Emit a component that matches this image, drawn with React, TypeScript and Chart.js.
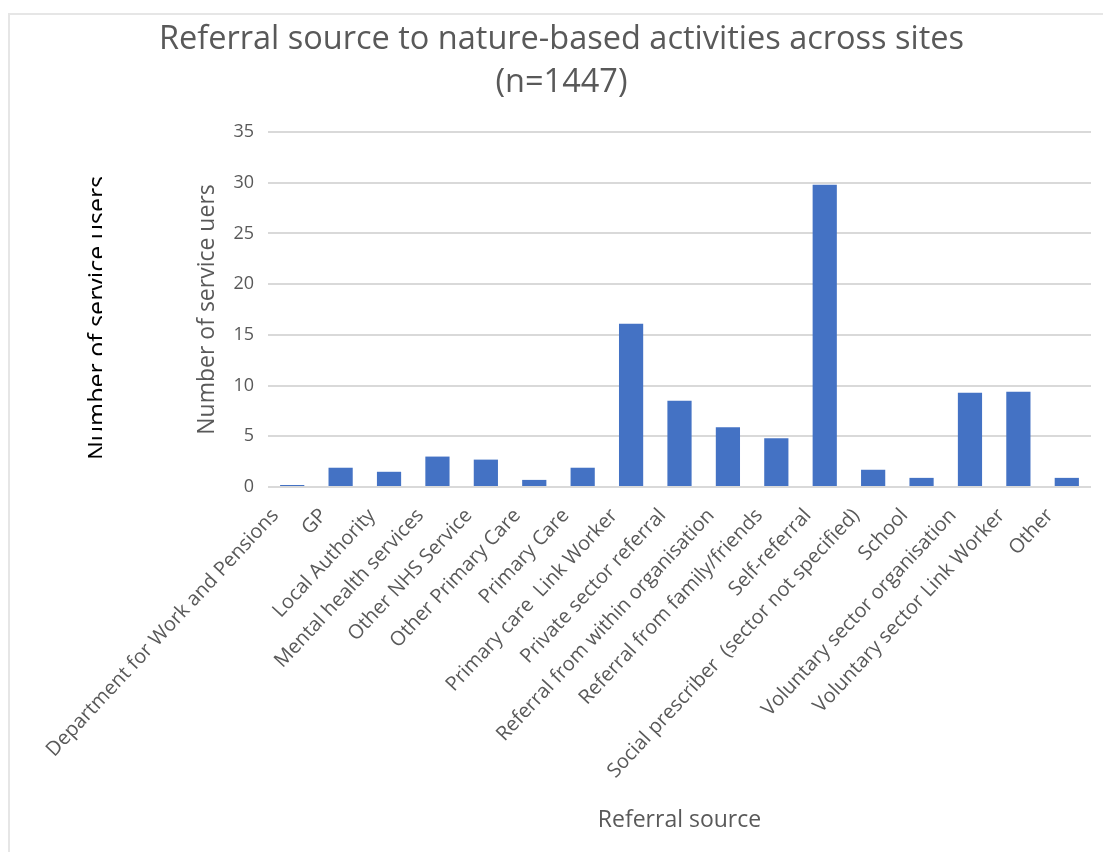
import React, { useEffect, useRef } from "react";
import { Chart, registerables } from "chart.js";

Chart.register(...registerables);

const categories: string[] = [
  "Department for Work and Pensions",
  "GP",
  "Local Authority",
  "Mental health services",
  "Other NHS Service",
  "Other Primary Care",
  "Primary Care",
  "Primary care  Link Worker",
  "Private sector referral",
  "Referral from within organisation",
  "Referral from family/friends",
  "Self-referral",
  "Social prescriber  (sector not specified)",
  "School",
  "Voluntary sector organisation",
  "Voluntary sector Link Worker",
  "Other",
];

const serviceUsers: number[] = [0.2, 1.9, 1.5, 3.0, 2.7, 0.7, 1.9, 16.1, 8.5, 5.9, 4.8, 29.8, 1.7, 0.9, 9.3, 9.4, 0.9];

const titleLines: string[] = ["Referral source to nature-based activities across sites", "(n=1447)"];
const yAxisTitle = "Number of service uers";
const xAxisTitle = "Referral source";
const overlayLabel = "Number of service users";
const yMin = 0;
const yMax = 35;
const yStep = 5;

const FONT = "'Open Sans', 'Noto Sans', sans-serif";
const GRAY = "#595959";

export default function App() {
  const ref = useRef<HTMLCanvasElement>(null);

  useEffect(() => {
    if (!ref.current) return;
    const chart = new Chart(ref.current, {
      type: "bar",
      data: {
        labels: categories,
        datasets: [
          {
            data: serviceUsers,
            backgroundColor: "#4472C4",
            categoryPercentage: 1,
            barPercentage: 0.5,
          },
        ],
      },
      options: {
        responsive: false,
        animation: false,
        devicePixelRatio: 1,
        layout: { padding: { left: 22, right: 12, top: 0, bottom: 0 } },
        plugins: {
          legend: { display: false },
          tooltip: { enabled: false },
          title: {
            display: true,
            text: titleLines,
            color: GRAY,
            font: { family: FONT, size: 32.5, weight: "normal", lineHeight: 43 / 32.5 },
            padding: { top: 3.5, bottom: 27.5 },
          },
        },
        scales: {
          x: {
            grid: { display: false },
            border: { display: false },
            ticks: {
              autoSkip: false,
              minRotation: 47,
              maxRotation: 47,
              labelOffset: -17,
              padding: 9,
              color: GRAY,
              font: { family: FONT, size: 20 },
            },
            title: {
              display: true,
              text: xAxisTitle,
              color: GRAY,
              font: { family: FONT, size: 23 },
              padding: { top: 0, bottom: 18 },
            },
            afterFit: (s: any) => {
              s.height = 365;
            },
          },
          y: {
            min: yMin,
            max: yMax,
            ticks: {
              stepSize: yStep,
              padding: 14,
              color: GRAY,
              font: { family: FONT, size: 18 },
            },
            grid: { color: "#d9d9d9", lineWidth: 2, drawTicks: false },
            border: { display: false },
            title: {
              display: true,
              text: yAxisTitle,
              color: GRAY,
              font: { family: FONT, size: 23 },
              padding: { top: 162, bottom: 0 },
            },
            afterFit: (s: any) => {
              s.width = 236;
            },
          },
        },
      },
    });
    return () => chart.destroy();
  }, []);

  return (
    <div style={{ position: "fixed", left: 0, top: 0, width: 1103, height: 852, background: "#fff", overflow: "hidden" }}>
      <div
        style={{
          position: "absolute",
          left: 8,
          top: 13,
          width: 1100,
          height: 845,
          borderTop: "2px solid #e6e6e6",
          borderLeft: "2px solid #e6e6e6",
        }}
      />
      <canvas
        ref={ref}
        width={1093}
        height={837}
        style={{ position: "absolute", left: 10, top: 15, width: 1093, height: 837 }}
      />
      <div style={{ position: "absolute", left: 0, top: 0, width: 102, height: 852, overflow: "hidden" }}>
        <div
          style={{
            position: "absolute",
            left: 84,
            top: 317.5,
            fontFamily: FONT,
            fontSize: 25,
            lineHeight: "25px",
            color: "#000",
            whiteSpace: "nowrap",
            writingMode: "vertical-rl",
            transform: "translateY(-50%) rotate(180deg)",
          }}
        >
          {overlayLabel}
        </div>
      </div>
    </div>
  );
}
